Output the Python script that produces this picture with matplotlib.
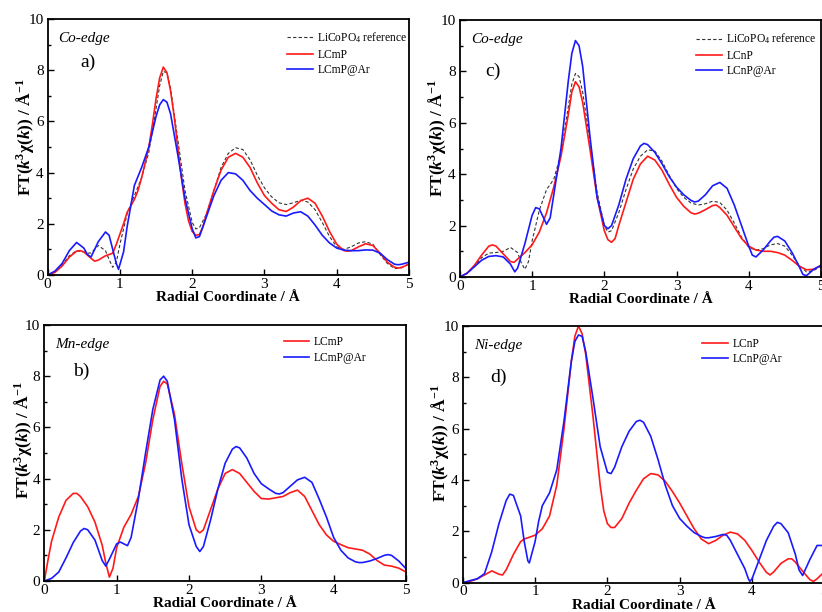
import matplotlib
matplotlib.use("Agg")
import matplotlib.pyplot as plt
from matplotlib.ticker import MultipleLocator

plt.rcParams["font.family"] = ["Liberation Serif", "DejaVu Serif"]
plt.rcParams["mathtext.fontset"] = "custom"
plt.rcParams["mathtext.rm"] = "Liberation Serif"
plt.rcParams["mathtext.it"] = "Liberation Serif:italic"
plt.rcParams["mathtext.bf"] = "Liberation Serif:bold"
plt.rcParams["mathtext.bfit"] = "Liberation Serif:bold:italic"

# ---- Panel a: Co K-edge, LCmP samples (r [Å], |FT|) ----
a_ref = [(0, 0), (0.1, 0.12), (0.2, 0.4), (0.3, 0.75), (0.4, 0.95), (0.5, 0.9), (0.55, 0.85),
         (0.6, 0.86), (0.7, 1.15), (0.8, 0.95), (0.85, 0.6), (0.9, 0.3), (0.95, 0.5), (1.0, 1.2),
         (1.05, 1.8), (1.1, 2.4), (1.2, 3.1), (1.3, 3.8), (1.4, 4.8), (1.5, 6.5), (1.55, 7.4),
         (1.6, 7.95), (1.65, 7.9), (1.7, 7.3), (1.8, 5.3), (1.9, 3.3), (2.0, 2.05), (2.05, 1.8),
         (2.1, 1.85), (2.2, 2.4), (2.3, 3.3), (2.4, 4.2), (2.5, 4.75), (2.6, 4.97), (2.7, 4.9),
         (2.8, 4.5), (2.9, 3.9), (3.0, 3.4), (3.1, 3.05), (3.2, 2.82), (3.3, 2.75), (3.4, 2.82),
         (3.5, 2.92), (3.6, 2.85), (3.7, 2.55), (3.8, 2.05), (3.9, 1.5), (4.0, 1.1), (4.1, 1.0),
         (4.2, 1.1), (4.3, 1.25), (4.4, 1.3), (4.5, 1.2), (4.6, 0.8), (4.7, 0.45), (4.8, 0.25),
         (4.9, 0.28), (5.0, 0.45)]
a_lcmp = [(0, 0), (0.1, 0.1), (0.2, 0.35), (0.3, 0.7), (0.4, 0.93), (0.45, 0.95), (0.5, 0.9),
          (0.6, 0.65), (0.65, 0.54), (0.7, 0.58), (0.8, 0.75), (0.9, 0.85), (0.95, 1.2),
          (1.0, 1.6), (1.05, 2.0), (1.1, 2.45), (1.15, 2.7), (1.2, 2.95), (1.25, 3.3), (1.3, 3.8),
          (1.35, 4.4), (1.4, 5.0), (1.45, 5.9), (1.5, 6.9), (1.55, 7.7), (1.6, 8.12),
          (1.65, 7.9), (1.7, 7.2), (1.75, 6.2), (1.8, 5.0), (1.85, 3.8), (1.9, 2.8), (1.95, 2.1),
          (2.0, 1.7), (2.05, 1.55), (2.1, 1.58), (2.15, 1.9), (2.2, 2.4), (2.3, 3.3), (2.4, 4.1),
          (2.5, 4.6), (2.6, 4.75), (2.7, 4.6), (2.8, 4.2), (2.9, 3.6), (3.0, 3.1), (3.1, 2.8),
          (3.2, 2.55), (3.3, 2.48), (3.4, 2.65), (3.5, 2.9), (3.6, 3.0), (3.7, 2.8), (3.8, 2.3),
          (3.9, 1.7), (4.0, 1.2), (4.1, 0.95), (4.15, 0.93), (4.2, 0.95), (4.3, 1.1),
          (4.4, 1.22), (4.5, 1.15), (4.6, 0.85), (4.7, 0.5), (4.8, 0.3), (4.85, 0.27),
          (4.9, 0.3), (5.0, 0.42)]
a_lcmp_ar = [(0, 0), (0.1, 0.15), (0.2, 0.45), (0.3, 0.95), (0.4, 1.27), (0.5, 1.05),
             (0.55, 0.8), (0.6, 0.7), (0.7, 1.3), (0.8, 1.68), (0.85, 1.55), (0.9, 1.0),
             (0.95, 0.45), (0.98, 0.22), (1.05, 0.9), (1.1, 1.9), (1.15, 2.7), (1.2, 3.5),
             (1.3, 4.2), (1.4, 5.0), (1.5, 6.2), (1.55, 6.65), (1.6, 6.85), (1.65, 6.75),
             (1.7, 6.3), (1.8, 4.7), (1.9, 3.0), (2.0, 1.8), (2.05, 1.45), (2.1, 1.5), (2.2, 2.3),
             (2.3, 3.1), (2.4, 3.7), (2.5, 4.0), (2.6, 3.95), (2.7, 3.7), (2.8, 3.3), (2.9, 3.0),
             (3.0, 2.75), (3.1, 2.5), (3.2, 2.35), (3.3, 2.3), (3.4, 2.42), (3.5, 2.47),
             (3.6, 2.3), (3.7, 1.95), (3.8, 1.55), (3.9, 1.25), (4.0, 1.05), (4.1, 0.97),
             (4.2, 0.95), (4.3, 0.95), (4.4, 0.98), (4.5, 0.97), (4.6, 0.85), (4.7, 0.6),
             (4.8, 0.42), (4.85, 0.4), (4.9, 0.42), (5.0, 0.5)]

# ---- Panel b: Mn K-edge, LCmP samples ----
b_lcmp = [(0, 0), (0.05, 0.8), (0.1, 1.55), (0.2, 2.5), (0.3, 3.15), (0.4, 3.42), (0.45, 3.42),
          (0.5, 3.3), (0.6, 2.9), (0.7, 2.3), (0.8, 1.4), (0.85, 0.7), (0.9, 0.15), (0.95, 0.5),
          (1.0, 1.3), (1.1, 2.1), (1.2, 2.6), (1.3, 3.3), (1.4, 4.6), (1.5, 6.3), (1.6, 7.6),
          (1.65, 7.8), (1.7, 7.7), (1.8, 6.5), (1.9, 4.6), (2.0, 2.9), (2.1, 2.0), (2.15, 1.88),
          (2.2, 2.0), (2.3, 2.8), (2.4, 3.6), (2.5, 4.2), (2.6, 4.35), (2.7, 4.2), (2.8, 3.85),
          (2.9, 3.5), (3.0, 3.22), (3.1, 3.2), (3.2, 3.25), (3.3, 3.3), (3.4, 3.45), (3.5, 3.55),
          (3.6, 3.3), (3.7, 2.75), (3.8, 2.2), (3.9, 1.8), (4.0, 1.55), (4.1, 1.42), (4.2, 1.3),
          (4.3, 1.25), (4.4, 1.2), (4.5, 1.05), (4.6, 0.8), (4.7, 0.62), (4.8, 0.58), (4.9, 0.5),
          (5.0, 0.35)]
b_lcmp_ar = [(0, 0), (0.1, 0.1), (0.2, 0.35), (0.3, 0.9), (0.4, 1.5), (0.5, 1.95), (0.55, 2.05),
             (0.6, 2.0), (0.7, 1.6), (0.8, 0.8), (0.85, 0.58), (0.9, 0.85), (1.0, 1.45),
             (1.05, 1.52), (1.1, 1.45), (1.15, 1.38), (1.2, 1.7), (1.3, 3.2), (1.4, 5.0),
             (1.5, 6.7), (1.6, 7.85), (1.65, 8.0), (1.7, 7.8), (1.8, 6.3), (1.9, 4.0), (2.0, 2.2),
             (2.1, 1.35), (2.15, 1.15), (2.2, 1.35), (2.3, 2.4), (2.4, 3.6), (2.5, 4.6),
             (2.6, 5.15), (2.65, 5.25), (2.7, 5.2), (2.8, 4.8), (2.9, 4.2), (3.0, 3.8), (3.1, 3.6),
             (3.2, 3.42), (3.25, 3.4), (3.3, 3.45), (3.4, 3.7), (3.5, 3.95), (3.6, 4.05),
             (3.7, 3.85), (3.8, 3.2), (3.9, 2.5), (4.0, 1.7), (4.1, 1.2), (4.2, 0.9), (4.3, 0.75),
             (4.35, 0.72), (4.4, 0.72), (4.5, 0.78), (4.6, 0.88), (4.7, 1.0), (4.75, 1.03),
             (4.8, 1.0), (4.9, 0.78), (5.0, 0.48)]

# ---- Panel c: Co K-edge, LCnP samples ----
c_ref = [(0, 0), (0.1, 0.13), (0.2, 0.4), (0.3, 0.75), (0.4, 0.93), (0.5, 0.95), (0.6, 1.0),
         (0.7, 1.15), (0.8, 0.95), (0.85, 0.55), (0.9, 0.3), (0.95, 0.6), (1.0, 1.4), (1.1, 2.6),
         (1.2, 3.4), (1.3, 3.8), (1.4, 4.8), (1.5, 6.6), (1.55, 7.5), (1.6, 7.92), (1.65, 7.8),
         (1.7, 7.2), (1.8, 5.3), (1.9, 3.3), (2.0, 2.0), (2.05, 1.75), (2.1, 1.8), (2.2, 2.5),
         (2.3, 3.4), (2.4, 4.2), (2.5, 4.7), (2.6, 4.95), (2.7, 4.9), (2.8, 4.5), (2.9, 3.95),
         (3.0, 3.45), (3.1, 3.1), (3.2, 2.88), (3.3, 2.8), (3.4, 2.85), (3.5, 2.95), (3.6, 2.9),
         (3.7, 2.6), (3.8, 2.1), (3.9, 1.55), (4.0, 1.15), (4.1, 1.05), (4.2, 1.1), (4.3, 1.25),
         (4.4, 1.3), (4.5, 1.2), (4.6, 0.85), (4.7, 0.45), (4.8, 0.2), (4.9, 0.25), (5.0, 0.42)]
c_lcnp = [(0, 0), (0.1, 0.15), (0.2, 0.45), (0.3, 0.85), (0.4, 1.2), (0.45, 1.25), (0.5, 1.2),
          (0.6, 0.9), (0.7, 0.6), (0.75, 0.57), (0.8, 0.7), (0.9, 0.95), (1.0, 1.25), (1.1, 1.75),
          (1.2, 2.5), (1.3, 3.5), (1.4, 4.7), (1.5, 6.3), (1.55, 7.2), (1.6, 7.6), (1.65, 7.4),
          (1.7, 6.8), (1.8, 5.0), (1.9, 3.1), (2.0, 1.8), (2.05, 1.45), (2.1, 1.35), (2.15, 1.5),
          (2.2, 2.0), (2.3, 2.9), (2.4, 3.8), (2.5, 4.4), (2.6, 4.7), (2.7, 4.55), (2.8, 4.15),
          (2.9, 3.6), (3.0, 3.1), (3.1, 2.75), (3.2, 2.5), (3.25, 2.45), (3.3, 2.48), (3.4, 2.62),
          (3.5, 2.78), (3.55, 2.8), (3.6, 2.7), (3.7, 2.4), (3.8, 1.95), (3.9, 1.5), (4.0, 1.2),
          (4.1, 1.05), (4.2, 1.0), (4.3, 1.0), (4.4, 0.95), (4.5, 0.85), (4.6, 0.65), (4.7, 0.42),
          (4.8, 0.28), (4.9, 0.3), (5.0, 0.45)]
c_lcnp_ar = [(0, 0), (0.1, 0.15), (0.2, 0.4), (0.3, 0.65), (0.4, 0.8), (0.5, 0.83), (0.6, 0.78),
             (0.7, 0.5), (0.76, 0.2), (0.8, 0.35), (0.9, 1.3), (1.0, 2.4), (1.05, 2.7),
             (1.1, 2.65), (1.15, 2.35), (1.2, 2.05), (1.25, 2.3), (1.3, 3.2), (1.4, 5.0),
             (1.5, 7.6), (1.55, 8.7), (1.6, 9.2), (1.65, 9.0), (1.7, 8.2), (1.8, 5.5), (1.9, 3.1),
             (2.0, 2.0), (2.05, 1.88), (2.1, 2.0), (2.2, 2.8), (2.3, 3.8), (2.4, 4.6), (2.5, 5.1),
             (2.55, 5.2), (2.6, 5.15), (2.7, 4.85), (2.8, 4.4), (2.9, 3.9), (3.0, 3.5), (3.1, 3.2),
             (3.2, 2.98), (3.25, 2.92), (3.3, 2.95), (3.4, 3.2), (3.5, 3.55), (3.6, 3.68),
             (3.7, 3.45), (3.8, 2.8), (3.9, 2.0), (4.0, 1.2), (4.05, 0.85), (4.1, 0.78),
             (4.2, 1.05), (4.3, 1.4), (4.35, 1.55), (4.4, 1.58), (4.5, 1.4), (4.6, 0.95),
             (4.7, 0.4), (4.75, 0.1), (4.8, 0.05), (4.9, 0.3), (5.0, 0.45)]

# ---- Panel d: Ni K-edge, LCnP samples ----
d_lcnp = [(0, 0), (0.1, 0.05), (0.2, 0.15), (0.3, 0.3), (0.4, 0.46), (0.5, 0.33), (0.55, 0.3),
          (0.6, 0.5), (0.7, 1.1), (0.8, 1.6), (0.85, 1.7), (0.9, 1.75), (1.0, 1.85), (1.1, 2.1),
          (1.2, 2.6), (1.3, 3.8), (1.4, 6.0), (1.5, 8.6), (1.55, 9.6), (1.6, 10.0), (1.65, 9.7),
          (1.7, 8.9), (1.8, 6.5), (1.9, 3.8), (1.95, 2.8), (2.0, 2.3), (2.05, 2.15), (2.1, 2.15),
          (2.2, 2.5), (2.3, 3.1), (2.4, 3.6), (2.5, 4.05), (2.6, 4.25), (2.7, 4.2), (2.8, 3.95),
          (2.9, 3.55), (3.0, 3.1), (3.1, 2.6), (3.2, 2.1), (3.3, 1.7), (3.4, 1.52), (3.5, 1.65),
          (3.6, 1.85), (3.7, 1.97), (3.8, 1.9), (3.9, 1.65), (4.0, 1.25), (4.1, 0.8), (4.2, 0.4),
          (4.25, 0.3), (4.3, 0.42), (4.4, 0.75), (4.5, 0.93), (4.55, 0.93), (4.6, 0.8),
          (4.7, 0.45), (4.8, 0.12), (4.85, 0.05), (4.9, 0.15), (5.0, 0.42)]
d_lcnp_ar = [(0, 0), (0.1, 0.08), (0.2, 0.15), (0.3, 0.35), (0.4, 1.2), (0.5, 2.3), (0.6, 3.2),
             (0.65, 3.45), (0.7, 3.4), (0.8, 2.6), (0.85, 1.6), (0.9, 0.85), (0.92, 0.77),
             (1.0, 1.6), (1.05, 2.4), (1.1, 3.0), (1.2, 3.5), (1.3, 4.4), (1.4, 6.3), (1.5, 8.6),
             (1.55, 9.4), (1.6, 9.65), (1.65, 9.6), (1.7, 9.0), (1.8, 7.2), (1.9, 5.3), (2.0, 4.3),
             (2.05, 4.25), (2.1, 4.5), (2.2, 5.3), (2.3, 5.9), (2.4, 6.28), (2.45, 6.33),
             (2.5, 6.25), (2.6, 5.7), (2.7, 4.8), (2.8, 3.8), (2.9, 3.0), (3.0, 2.5), (3.1, 2.2),
             (3.2, 1.95), (3.3, 1.8), (3.35, 1.75), (3.4, 1.75), (3.5, 1.8), (3.6, 1.88),
             (3.65, 1.85), (3.7, 1.65), (3.8, 1.1), (3.9, 0.55), (3.95, 0.15), (3.97, 0.05),
             (4.0, 0.15), (4.1, 0.9), (4.2, 1.65), (4.3, 2.2), (4.35, 2.35), (4.4, 2.3),
             (4.5, 1.95), (4.6, 1.1), (4.65, 0.5), (4.7, 0.28), (4.8, 0.9), (4.9, 1.45),
             (5.0, 1.45)]

RED = "#ff1a1a"
BLUE = "#1a1aff"
REF = "#333333"

YLABEL = r"$\mathbf{FT(}\mathbfit{k}^{\mathbf{3}}\mathbf{\chi(}\mathbfit{k}\mathbf{))\ /\ Å^{-1}}$"
XLABEL = "Radial Coordinate / Å"

fig = plt.figure(figsize=(8.22, 6.12), dpi=100)

panels = [
    # rect, edge label, letter position, letter, y-label coords, legend anchor x, curves
    ([0.058, 0.5507, 0.4396, 0.4183], "Co-edge", (0.09, 0.83), "a)", (-0.031, 0.54), 0.663,
     [(a_ref, "LiCoPO$_4$ reference", REF, "--"), (a_lcmp, "LCmP", RED, "-"),
      (a_lcmp_ar, "LCmP@Ar", BLUE, "-")]),
    ([0.0539, 0.0507, 0.4400, 0.4183], "Mn-edge", (0.08, 0.82), "b)", (-0.029, 0.55), 0.663,
     [(b_lcmp, "LCmP", RED, "-"), (b_lcmp_ar, "LCmP@Ar", BLUE, "-")]),
    ([0.5595, 0.5474, 0.4392, 0.4199], "Co-edge", (0.07, 0.80), "c)", (-0.034, 0.54), 0.655,
     [(c_ref, "LiCoPO$_4$ reference", REF, "--"), (c_lcnp, "LCnP", RED, "-"),
      (c_lcnp_ar, "LCnP@Ar", BLUE, "-")]),
    ([0.5630, 0.0479, 0.4398, 0.4194], "Ni-edge", (0.075, 0.80), "d)", (-0.032, 0.545), 0.663,
     [(d_lcnp, "LCnP", RED, "-"), (d_lcnp_ar, "LCnP@Ar", BLUE, "-")]),
]

for rect, edge, lpos, letter, ylpos, legx, curves in panels:
    ax = fig.add_axes(rect)
    for pts, label, color, ls in curves:
        xs = [p[0] for p in pts]
        ys = [p[1] for p in pts]
        if ls == "--":
            ax.plot(xs, ys, ls=(0, (3, 2)), color=color, lw=0.8, label=label)
        else:
            ax.plot(xs, ys, ls=ls, color=color, lw=1.2, label=label)
    ax.set_xlim(0, 5)
    ax.set_ylim(0, 10)
    ax.xaxis.set_major_locator(MultipleLocator(1))
    ax.yaxis.set_major_locator(MultipleLocator(2))
    ax.yaxis.set_minor_locator(MultipleLocator(1))
    ax.tick_params(which="both", direction="in", top=False, right=False, labelsize=11)
    ax.tick_params(axis="x", pad=2)
    ax.tick_params(axis="y", pad=3)
    ax.tick_params(which="major", length=4, width=1)
    ax.tick_params(which="minor", length=2.5, width=1)
    for s in ax.spines.values():
        s.set_linewidth(1.3)
    ax.set_xlabel(XLABEL, fontsize=11, fontweight="bold")
    ax.xaxis.set_label_coords(0.5, -0.063)
    ax.set_ylabel(YLABEL, fontsize=12.5)
    ax.yaxis.set_label_coords(*ylpos)
    ax.text(0.03, 0.925, edge, transform=ax.transAxes, fontsize=11, style="italic",
            va="center", ha="left")
    ax.text(lpos[0], lpos[1], letter, transform=ax.transAxes, fontsize=14,
            va="center", ha="left")
    ax.legend(loc="upper left", frameon=False, fontsize=8.3, handlelength=2.2,
              handletextpad=0.4, labelspacing=0.3, borderaxespad=0.0,
              borderpad=0.0, bbox_to_anchor=(legx, 0.955))

fig.savefig("out.png", dpi=100)
